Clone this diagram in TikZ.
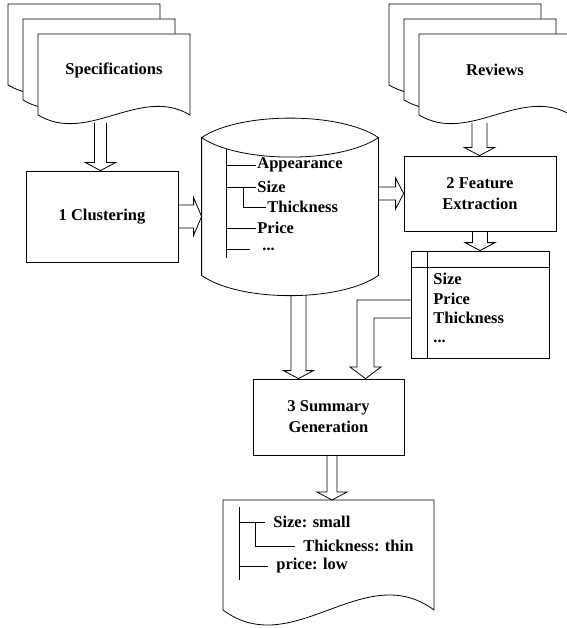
\documentclass[tikz,border=0pt]{standalone}
\usepackage{fontspec}
\setmainfont{Liberation Serif}
\usetikzlibrary{calc}

% hollow block arrows: start, end, half shaft, half head
\newcommand{\fatdown}[4]{%
  \draw[block] let \p1 = (#1), \p2 = (#2) in
    (\x1-#3pt, \y1) -- (\x1-#3pt, \y2+8pt) -- (\x1-#4pt, \y2+8pt)
    -- (\x1, \y2) -- (\x1+#4pt, \y2+8pt) -- (\x1+#3pt, \y2+8pt)
    -- (\x1+#3pt, \y1);
}
\newcommand{\fatright}[4]{%
  \draw[block] let \p1 = (#1), \p2 = (#2) in
    (\x1, \y1+#3pt) -- (\x2-8pt, \y1+#3pt) -- (\x2-8pt, \y1+#4pt)
    -- (\x2, \y1) -- (\x2-8pt, \y1-#4pt) -- (\x2-8pt, \y1-#3pt)
    -- (\x1, \y1-#3pt);
}

\begin{document}
\begin{tikzpicture}[
  x = 1pt, y = -1pt,
  line width = 0.8pt,
  every node/.style = {font = \fontsize{16.5}{21}\selectfont\bfseries},
  box/.style = {
    draw,
    minimum width = 152pt,
    inner sep = 0pt,
    align = center,
  },
  page/.style = {draw, fill = white},
  block/.style = {draw, line join = miter},
  leaf/.style = {anchor = west, inner sep = 1pt},
  outleaf/.style = {anchor = west, inner sep = 0pt, inner xsep = 8pt}
]
  \useasboundingbox (0, 0) rectangle (566, 628);

  % input documents
  \foreach \s in {0, 15, 30} {
    \draw[page] (8+\s, 4+\s) -- ++(0, 81)
      .. controls +(50, 30) and +(-50, -30) .. ++(152, 0) -- ++(0, -81) -- cycle;
    \draw[page] (389+\s, 4+\s) -- ++(0, 81)
      .. controls +(50, 30) and +(-50, -30) .. ++(152, 0) -- ++(0, -81) -- cycle;
  }
  \node (spec) at (114, 70) {Specifications};
  \node (rev) at (495, 70) {Reviews};
  \coordinate (specout) at (100.5, 123);
  \coordinate (revout) at (479.5, 123);

  % process boxes
  \node[box, minimum height = 91pt] (clu) at (102, 216.5) {1 Clustering};
  \node[box, minimum height = 75pt] (feat) at (480, 193.5) {2 Feature\\Extraction};
  \node[box, minimum width = 151pt, minimum height = 76pt] (sum) at (328.5, 417)
    {3 Summary\\Generation};

  % feature database
  \node[minimum width = 176pt, minimum height = 137pt, inner sep = 0pt] (db) at (290, 206.5) {};
  \draw (db.north west) .. controls +(38, -26) and +(-38, -26) .. (db.north east)
    .. controls +(-38, 26) and +(38, 26) .. (db.north west)
    -- (db.south west) .. controls +(38, 27) and +(-38, 27) .. (db.south east)
    -- (db.north east);
  \coordinate (dbout) at (298.5, 295);

  \coordinate (trunk) at (226, 149);
  \node[leaf] (app) at (256, 165) {Appearance};
  \node[leaf] (size) at (256, 187) {Size};
  \node[leaf] (thick) at (266, 207) {Thickness};
  \node[leaf] (price) at (256, 228) {Price};
  \node[leaf] (more) at (261, 249) {...};
  \draw (trunk) -- ++(0, 109);
  \draw (trunk |- app) -- (app.west);
  \draw (trunk |- size) -- (size.west);
  \draw ($(trunk |- size) + (17, 0)$) |- (thick.west);
  \draw (trunk |- price) -- (price.west);
  \draw (trunk |- more) -- ++(24, 0);

  % feature table
  \node[draw, minimum width = 138pt, minimum height = 107pt, inner sep = 0pt] (tab)
    at (480, 304.5) {};
  \draw ([xshift = 17pt]tab.north west) -- ([xshift = 17pt]tab.south west);
  \draw ([yshift = -17pt]tab.north west) -- ([yshift = -17pt]tab.north east);
  \node[anchor = north west, align = left, inner sep = 0pt,
    font = \fontsize{16.5}{19.3}\selectfont\bfseries] (list) at (433, 273)
    {Size\\Price\\Thickness\\...};

  % summary document
  \coordinate (out) at (223, 500);
  \draw[page] (out) -- ++(0, 110)
    .. controls +(70, 52) and +(-70, -52) .. ++(211, 0) -- ++(0, -110) -- cycle;
  \coordinate (stem) at (239, 507);
  \node[outleaf] (osize) at (265, 522) {Size: small};
  \node[outleaf] (othick) at (295, 546) {Thickness: thin};
  \node[outleaf] (oprice) at (268, 566) {price: low};
  \draw (stem) -- ++(0, 73);
  \draw (stem |- osize) -- (osize.west);
  \draw ($(stem |- osize) + (16, 0)$) |- (othick.west);
  \draw (stem |- oprice) -- (oprice.west);

  % flow arrows
  \fatdown{specout}{clu.north}{6}{15}
  \fatdown{revout}{feat.north}{7.5}{15}
  \fatdown{feat.south}{tab.north}{7.5}{15}
  \fatdown{dbout}{sum.north}{7.5}{15}
  \fatdown{[xshift = 3.5pt]sum.south}{out}{5}{15}
  \fatright{clu.east}{db.west}{11.5}{19}
  \fatright{db.east |- feat.west}{feat.west}{6.5}{15.5}

  \draw[block] ([yshift = 4.5pt]tab.west) -| (357, 367) -- (350, 367)
    -- ([xshift = 37pt]sum.north) -- (381, 367) -- (374, 367)
    |- ([yshift = -13.5pt]tab.west);
\end{tikzpicture}
\end{document}
